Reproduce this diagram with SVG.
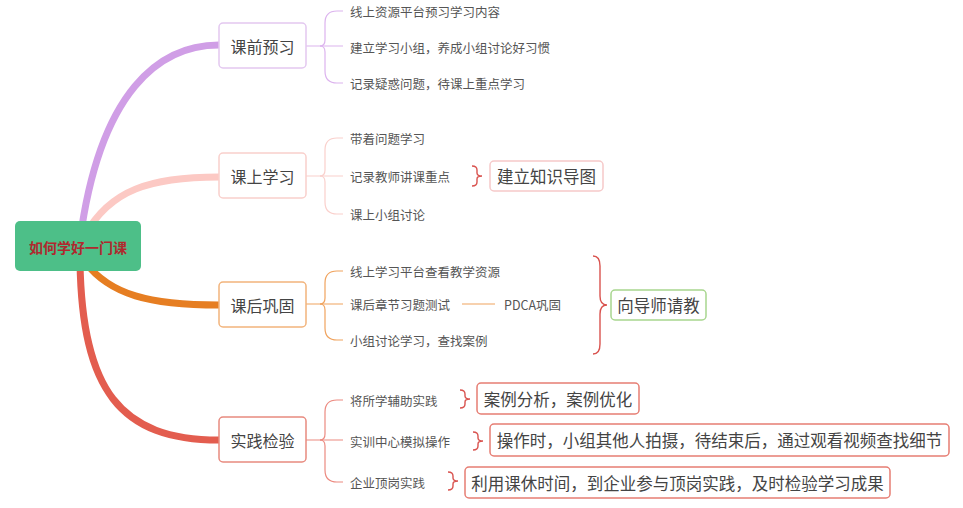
<svg xmlns="http://www.w3.org/2000/svg" width="963" height="508" viewBox="0 0 963 508">
<style>
text{font-family:"Noto Sans CJK SC","Noto Sans",sans-serif;dominant-baseline:central}
.root{font-size:14px;font-weight:bold;fill:#b0282e;text-anchor:middle}
.topic{font-size:16px;fill:#444;text-anchor:middle}
.sub{font-size:12.5px;fill:#555}
.note{font-size:16.5px;fill:#444;text-anchor:middle}
.main{fill:none;stroke-linecap:round;stroke-width:7}
.thin{fill:none;stroke-width:1.2}
.brace{fill:none;stroke:#d9534f;stroke-width:1.4}
.box{fill:#fff;stroke-width:1.5}
</style>
<rect width="963" height="508" fill="#fff"/>
<g id="connectors">
  <path class="main" stroke="#d09ee6" d="M80 240 C100 90 160 45 219 45"/>
  <path class="main" stroke="#fcc9c4" d="M85 235 C110 190 150 177 219 177"/>
  <path class="main" stroke="#e67e22" d="M85 262 C110 295 150 305 219 305"/>
  <path class="main" stroke="#e35d4f" d="M80 262 C82 390 120 440 219 440"/>
  <!-- branch 1 brace -->
  <g stroke="#dcb3ee" class="thin">
    <path d="M306 46 H343"/>
    <path d="M320 46 Q325 46 325 40 V23 Q325 11 337 11 H343"/>
    <path d="M320 46 Q325 46 325 52 V71 Q325 83 337 83 H343"/>
  </g>
  <g stroke="#fad0cc" class="thin">
    <path d="M306 176 H343"/>
    <path d="M320 176 Q325 176 325 170 V150 Q325 138 337 138 H343"/>
    <path d="M320 176 Q325 176 325 182 V202 Q325 214 337 214 H343"/>
  </g>
  <g stroke="#f0a35e" class="thin">
    <path d="M306 304 H343"/>
    <path d="M320 304 Q325 304 325 298 V283 Q325 271 337 271 H343"/>
    <path d="M320 304 Q325 304 325 310 V328 Q325 340 337 340 H343"/>
    <path d="M462 304 H495"/>
  </g>
  <g stroke="#ec8a80" class="thin">
    <path d="M306 440 H343"/>
    <path d="M320 440 Q325 440 325 434 V412 Q325 400 337 400 H343"/>
    <path d="M320 440 Q325 440 325 446 V470 Q325 482 337 482 H343"/>
  </g>
  <!-- summary braces -->
  <path class="brace" d="M472 166 Q477 166 477 170 V173 Q477 176 482 176 Q477 176 477 179 V182 Q477 186 472 186"/>
  <path class="brace" stroke="#c9646c" d="M593 256 Q600 256 600 266 V296 Q600 305 607 305 Q600 305 600 314 V344 Q600 354 593 354"/>
  <path class="brace" d="M460 390 Q465 390 465 394 V396 Q465 399 470 399 Q465 399 465 402 V404 Q465 408 460 408"/>
  <path class="brace" d="M473 432 Q478 432 478 436 V438 Q478 441 483 441 Q478 441 478 444 V446 Q478 450 473 450"/>
  <path class="brace" d="M448 472 Q453 472 453 476 V478 Q453 481 458 481 Q453 481 453 484 V486 Q453 490 448 490"/>
</g>
<g id="root">
  <rect x="15" y="221" width="126" height="50" rx="5" fill="#4dbf88"/>
  <text class="root" x="78" y="247">如何学好一门课</text>
</g>
<g id="topic1">
  <rect class="box" x="219" y="23" width="87" height="45" rx="4" stroke="#e3c8f0"/>
  <text class="topic" x="262.5" y="46">课前预习</text>
</g>
<g id="topic1-c1"><text class="sub" x="350" y="11">线上资源平台预习学习内容</text></g>
<g id="topic1-c2"><text class="sub" x="350" y="47">建立学习小组，养成小组讨论好习惯</text></g>
<g id="topic1-c3"><text class="sub" x="350" y="83">记录疑惑问题，待课上重点学习</text></g>
<g id="topic2">
  <rect class="box" x="219" y="153" width="87" height="45" rx="4" stroke="#f9d0cc"/>
  <text class="topic" x="262.5" y="176">课上学习</text>
</g>
<g id="topic2-c1"><text class="sub" x="350" y="138">带着问题学习</text></g>
<g id="topic2-c2"><text class="sub" x="350" y="176">记录教师讲课重点</text></g>
<g id="topic2-c3"><text class="sub" x="350" y="214">课上小组讨论</text></g>
<g id="summary1">
  <rect class="box" x="490" y="161" width="113" height="30" rx="4" stroke="#f6c9c9"/>
  <text class="note" x="546.5" y="176">建立知识导图</text>
</g>
<g id="topic3">
  <rect class="box" x="219" y="282" width="87" height="45" rx="4" stroke="#f2b47c"/>
  <text class="topic" x="262.5" y="305">课后巩固</text>
</g>
<g id="topic3-c1"><text class="sub" x="350" y="271">线上学习平台查看教学资源</text></g>
<g id="topic3-c2"><text class="sub" x="350" y="304">课后章节习题测试</text></g>
<g id="topic3-c3"><text class="sub" x="350" y="340">小组讨论学习，查找案例</text></g>
<g id="pdca"><text class="sub" x="504" y="304">PDCA巩固</text></g>
<g id="summary2">
  <rect class="box" x="611" y="290" width="95" height="30" rx="4" stroke="#a8d68f"/>
  <text class="note" x="658.5" y="305">向导师请教</text>
</g>
<g id="topic4">
  <rect class="box" x="219" y="417" width="87" height="45" rx="4" stroke="#e88a7f"/>
  <text class="topic" x="262.5" y="440">实践检验</text>
</g>
<g id="topic4-c1"><text class="sub" x="350" y="400">将所学辅助实践</text></g>
<g id="topic4-c2"><text class="sub" x="350" y="441">实训中心模拟操作</text></g>
<g id="topic4-c3"><text class="sub" x="350" y="482">企业顶岗实践</text></g>
<g id="summary3">
  <rect class="box" x="477" y="383" width="162" height="31" rx="4" stroke="#e67d73"/>
  <text class="note" x="558" y="399">案例分析，案例优化</text>
</g>
<g id="summary4">
  <rect class="box" x="490" y="424" width="459" height="32" rx="4" stroke="#e67d73"/>
  <text class="note" x="719.5" y="440">操作时，小组其他人拍摄，待结束后，通过观看视频查找细节</text>
</g>
<g id="summary5">
  <rect class="box" x="465" y="467" width="425" height="31" rx="4" stroke="#e67d73"/>
  <text class="note" x="677.5" y="482.5">利用课休时间，到企业参与顶岗实践，及时检验学习成果</text>
</g>
</svg>
